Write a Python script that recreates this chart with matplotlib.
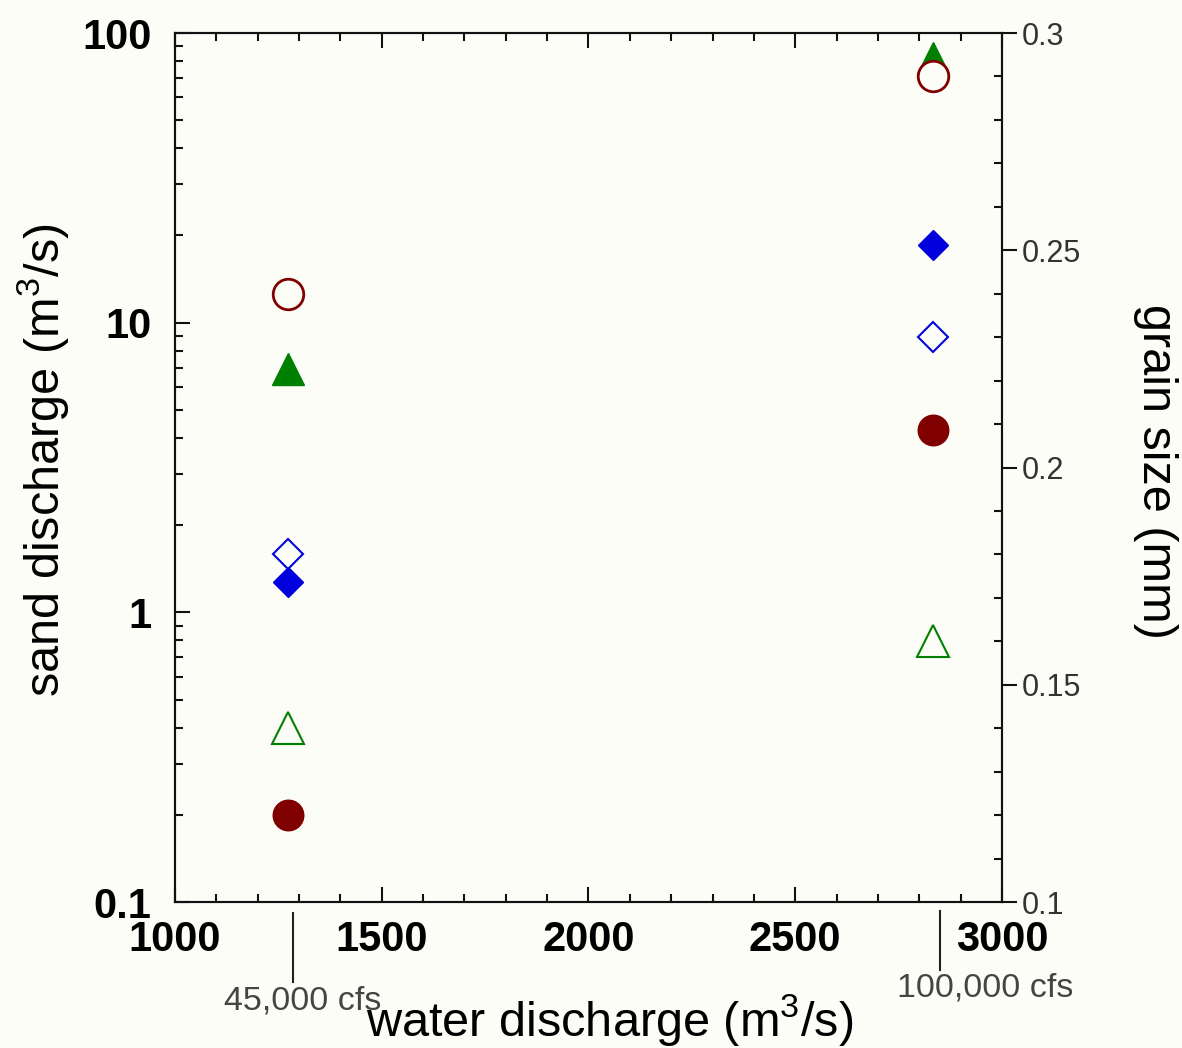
import numpy as np
import matplotlib
matplotlib.use("Agg")
import matplotlib.pyplot as plt
from matplotlib.ticker import MultipleLocator, LogLocator, NullFormatter, FixedFormatter, FixedLocator

plt.rcParams["font.family"] = ["Liberation Sans", "DejaVu Sans"]
plt.rcParams["mathtext.default"] = "regular"

# water discharge (m3/s) at 45,000 and 100,000 cfs
water = [1274, 2832]

# sand discharge (m3/s), left axis
sand_circle = [0.20, 4.25]
sand_triangle = [6.9, 82]
sand_diamond = [1.27, 18.6]

# grain size (mm), right axis
grain_circle = [0.240, 0.290]
grain_diamond = [0.180, 0.230]
grain_triangle = [0.140, 0.160]

cfs_x = [1285, 2850]
cfs_labels = ["45,000 cfs", "100,000 cfs"]

bg = "#fdfdf8"
red = "#800000"
green = "#008000"
blue = "#0000dd"

fig = plt.figure(figsize=(11.82, 10.48), dpi=100, facecolor=bg)
ax1 = fig.add_axes([0.148, 0.1393, 0.6997, 0.8292])
ax1.set_facecolor(bg)

ax1.plot(water, sand_circle, "o", color=red, ms=22, mec=red, ls="none")
ax1.plot(water, sand_triangle, "^", color=green, ms=23, mec=green, ls="none")
ax1.plot(water, sand_diamond, "D", color=blue, ms=15.5, mec=blue, ls="none")

ax1.set_xlim(1000, 3000)
ax1.set_yscale("log")
ax1.set_ylim(0.1, 100)

ax1.xaxis.set_major_locator(MultipleLocator(500))
ax1.xaxis.set_minor_locator(MultipleLocator(100))
ax1.yaxis.set_major_locator(FixedLocator([0.1, 1, 10, 100]))
ax1.yaxis.set_major_formatter(FixedFormatter(["0.1", "1", "10", "100"]))
ax1.yaxis.set_minor_locator(LogLocator(base=10, subs=np.arange(2, 10)))
ax1.yaxis.set_minor_formatter(NullFormatter())

ax1.tick_params(which="both", direction="in", top=True, width=1.5, color="#111")
ax1.tick_params(which="major", length=11)
ax1.tick_params(which="minor", length=6)
ax1.tick_params(axis="x", which="major", labelsize=30, pad=13)
ax1.tick_params(axis="y", which="major", labelsize=30, pad=17)
for lab in ax1.get_xticklabels() + ax1.get_yticklabels():
    lab.set_fontweight("bold")
for s in ax1.spines.values():
    s.set_linewidth(1.5)
    s.set_color("#111")

ax2 = ax1.twinx()
ax2.patch.set_visible(False)
ax2.plot(water, grain_triangle, "^", mfc=bg, mec=green, ms=23, mew=1.5, ls="none")
ax2.plot(water, grain_diamond, "D", mfc=bg, mec=blue, ms=15.5, mew=1.5, ls="none")
ax2.plot(water, grain_circle, "o", mfc=bg, mec=red, ms=22, mew=2, ls="none")
ax2.set_ylim(0.1, 0.3)
ax2.yaxis.set_minor_locator(MultipleLocator(0.01))
ax2.set_yticks([0.1, 0.15, 0.2, 0.25, 0.3])
ax2.set_yticklabels(["0.1", "0.15", "0.2", "0.25", "0.3"])
ax2.tick_params(axis="y", which="major", direction="out", length=11, width=1.5,
                labelsize=22, pad=3.5, labelcolor="#333", color="#111")
ax2.tick_params(axis="y", which="minor", direction="in", length=6, width=1.5, color="#111")
for s in ax2.spines.values():
    s.set_linewidth(1.5)
    s.set_color("#111")

ax1.set_xlabel("water discharge (m$^3$/s)", fontsize=35)
ax1.xaxis.set_label_coords(0.526, -0.103)
ax1.set_ylabel("sand discharge (m$^3$/s)", fontsize=35)
ax1.yaxis.set_label_coords(-0.126, 0.509)
ax2.set_ylabel("grain size (mm)", fontsize=35, rotation=270, va="bottom")
ax2.yaxis.set_label_coords(1.158, 0.495)

trans = ax1.get_xaxis_transform()
ax1.plot([cfs_x[0], cfs_x[0]], [-0.0127, -0.092], color="#222", lw=1.5,
         transform=trans, clip_on=False)
ax1.plot([cfs_x[1], cfs_x[1]], [-0.0104, -0.078], color="#222", lw=1.5,
         transform=trans, clip_on=False)
ax1.text(1310, -0.114, cfs_labels[0], transform=trans, fontsize=24.5, color="#444",
         ha="center", va="center")
ax1.text(2959, -0.099, cfs_labels[1], transform=trans, fontsize=24.5, color="#444",
         ha="center", va="center")

fig.savefig("out.png", dpi=100, facecolor=bg)
